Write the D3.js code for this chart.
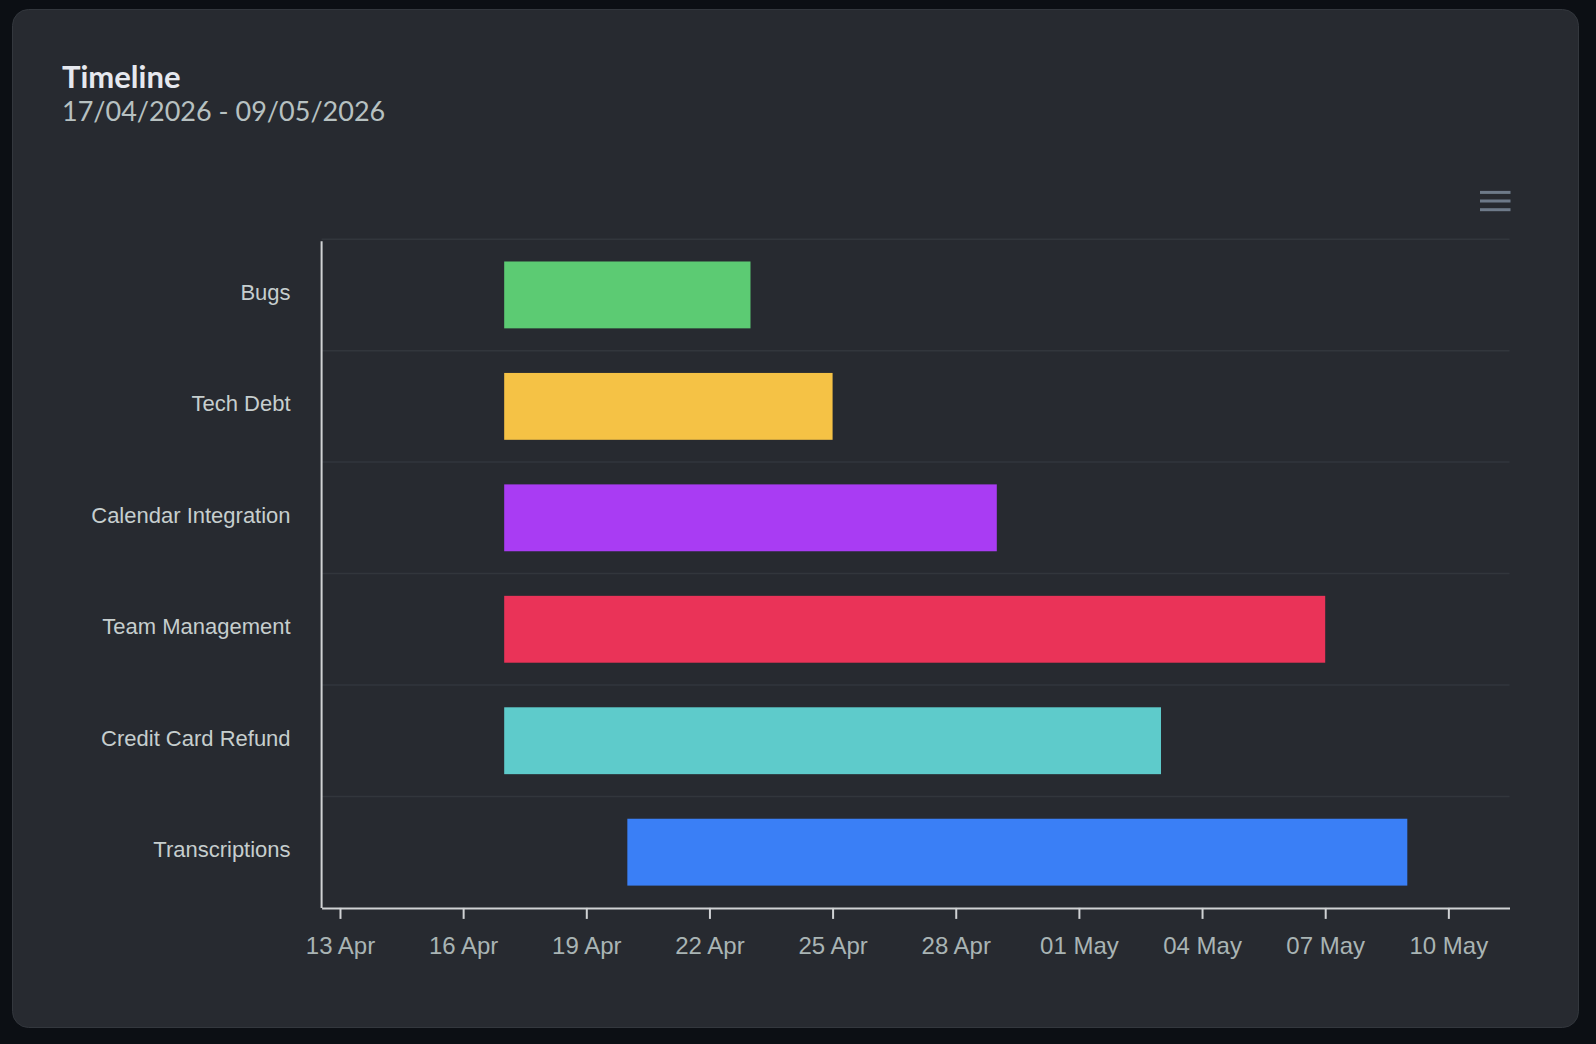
<!DOCTYPE html>
<html>
<head>
<meta charset="utf-8">
<script src="https://cdn.jsdelivr.net/npm/d3@7"></script>
<style>
  html, body { margin: 0; padding: 0; background: #0c0f14; }
  svg { display: block; }
</style>
</head>
<body>
<svg id="chart" width="1596" height="1044"></svg>
<script>
var tasks  = ["Bugs", "Tech Debt", "Calendar Integration", "Team Management", "Credit Card Refund", "Transcriptions"];
var starts = ["2026-04-17", "2026-04-17", "2026-04-17", "2026-04-17", "2026-04-17", "2026-04-20"];
var ends   = ["2026-04-23", "2026-04-25", "2026-04-29", "2026-05-07", "2026-05-03", "2026-05-09"];
var colors = ["#5ccb73", "#f5c245", "#a93cf3", "#ea3358", "#5ecbcb", "#3a7ff6"];

var title = "Timeline";
var subtitle = "17/04/2026 - 09/05/2026";
var axisStart = "2026-04-12T13:15";  // visible range of the time axis
var axisEnd = "2026-05-11T11:45";

var plotLeft = 321.6, plotRight = 1509.5;  // of the plot area
var plotTop = 239.2, plotBottom = 907.9;

var parse = d3.timeParse("%Y-%m-%d");
var parseTime = d3.timeParse("%Y-%m-%dT%H:%M");

var svg = d3.select("#chart");

// card
svg.append("rect")
    .attr("x", 12.5).attr("y", 9.5)
    .attr("width", 1566).attr("height", 1018)
    .attr("rx", 16)
    .style("fill", "#272a30")
    .style("stroke", "#33373d");

svg.append("text")
    .attr("x", 62).attr("y", 88)
    .style("font-family", "Lato, sans-serif")
    .style("font-weight", "bold")
    .style("font-size", "31px")
    .style("fill", "#e6e8ee")
    .text(title);

svg.append("text")
    .attr("x", 62).attr("y", 121)
    .style("font-family", "Lato, sans-serif")
    .style("font-size", "27px")
    .style("fill", "#b7c1c1")
    .text(subtitle);

// menu icon
[192.4, 201, 209.7].forEach(function(y) {
    svg.append("rect")
        .attr("x", 1480).attr("y", y - 1.5)
        .attr("width", 30.5).attr("height", 3)
        .style("fill", "#6e7a89");
});

var xScale = d3.scaleTime()
    .domain([parseTime(axisStart), parseTime(axisEnd)])
    .range([plotLeft, plotRight]);

var yScale = d3.scaleBand()
    .domain(tasks)
    .range([plotTop, plotBottom])
    .paddingInner(0.4)
    .paddingOuter(0.2);

// row grid lines
var step = yScale.step();
var rows = svg.append("g");
tasks.forEach(function(t, i) {
    var y = plotTop + i * step;
    rows.append("line")
        .attr("x1", plotLeft).attr("x2", plotRight)
        .attr("y1", y).attr("y2", y)
        .style("stroke", "#32363c")
        .style("stroke-width", 1.5);
});

// bars
svg.append("g").selectAll("rect")
    .data(tasks)
    .enter().append("rect")
    .attr("x", (d, i) => xScale(parse(starts[i])))
    .attr("y", d => yScale(d))
    .attr("width", (d, i) => xScale(parse(ends[i])) - xScale(parse(starts[i])))
    .attr("height", yScale.bandwidth())
    .style("fill", (d, i) => colors[i]);

// x axis
var xAxis = d3.axisBottom(xScale)
    .ticks(d3.timeDay.every(3).filter(function(d) {
        return Math.round((d - parse("2026-04-13")) / 864e5) % 3 === 0;
    }))
    .tickFormat(d3.timeFormat("%d %b"))
    .tickSize(11)
    .tickSizeOuter(0)
    .tickPadding(18);

var xg = svg.append("g")
    .attr("transform", "translate(0," + plotBottom + ")")
    .call(xAxis);
xg.select(".domain").style("stroke", "#d0d2d4").style("stroke-width", 2);
xg.selectAll(".tick line").style("stroke", "#d0d2d4").style("stroke-width", 2);
xg.selectAll(".tick text")
    .style("font-family", "'Liberation Sans', Arial, sans-serif")
    .style("font-size", "24px")
    .style("fill", "#a9b4b4");

// y axis
var yAxis = d3.axisLeft(yScale)
    .tickSize(0)
    .tickPadding(31);
var yg = svg.append("g")
    .attr("transform", "translate(" + plotLeft + ",0)")
    .call(yAxis);
yg.select(".domain")
    .attr("d", "M0," + (plotTop + 2) + "V" + plotBottom)
    .style("stroke", "#d0d2d4").style("stroke-width", 2);
yg.selectAll(".tick text")
    .attr("dy", "0.23em")
    .style("font-family", "'Liberation Sans', Arial, sans-serif")
    .style("font-size", "22px")
    .style("fill", "#c6cece");
</script>
</body>
</html>
